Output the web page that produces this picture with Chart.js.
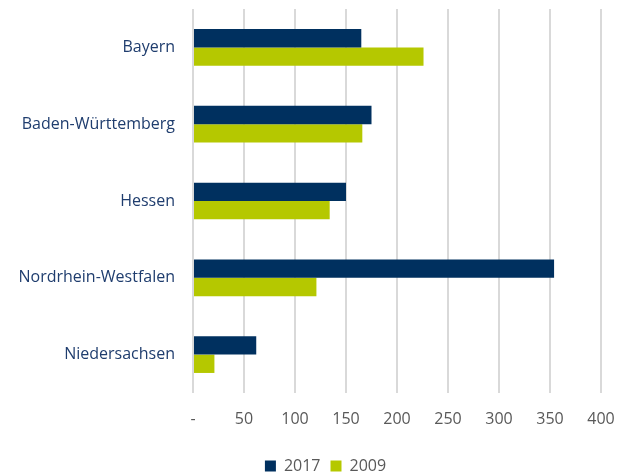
<!DOCTYPE html>
<html>
<head>
<meta charset="utf-8">
<script src="https://cdn.jsdelivr.net/npm/chart.js@4/dist/chart.umd.min.js"></script>
<style>
  html, body { margin: 0; padding: 0; background: #fff; }
  #wrap { width: 624px; height: 474px; }
</style>
</head>
<body>
<div id="wrap"><canvas id="chart" width="624" height="474"></canvas></div>
<script>
const states = ["Bayern", "Baden-Württemberg", "Hessen", "Nordrhein-Westfalen", "Niedersachsen"];
const values2017 = [165, 175, 150, 354, 62];
const values2009 = [226, 166, 134, 121, 21];
const seriesLabels = ["2017", "2009"];

const navy = "#00305f";
const green = "#b5c800";

// the legend in the original sits a bit right of the canvas centre
const shiftLegend = {
    id: "shiftLegend",
    afterLayout(chart) {
        if (chart.legend) chart.legend.left += 50;
    },
};

new Chart(document.getElementById("chart"), {
    type: "bar",
    data: {
        labels: states,
        datasets: [{
            label: seriesLabels[0],
            data: values2017,
            backgroundColor: navy,
            categoryPercentage: 0.478,
            barPercentage: 1.0,
        }, {
            label: seriesLabels[1],
            data: values2009,
            backgroundColor: green,
            categoryPercentage: 0.478,
            barPercentage: 1.0,
        }],
    },
    options: {
        indexAxis: "y",
        responsive: false,
        animation: false,
        layout: { padding: { top: 9, right: 23, left: 0, bottom: -10 } },
        plugins: {
            tooltip: { enabled: false },
            legend: {
                position: "bottom",
                labels: {
                    boxWidth: 11,
                    boxHeight: 11,
                    padding: 10,
                    color: "#595959",
                    font: { family: "Open Sans", size: 16 },
                },
            },
        },
        scales: {
            x: {
                min: 0,
                max: 400,
                ticks: {
                    stepSize: 50,
                    padding: 17,
                    color: "#595959",
                    font: { family: "Open Sans", size: 16 },
                    callback: v => v === 0 ? "-" : v,
                },
                grid: { color: "#d9d9d9", lineWidth: 2, drawTicks: false },
                border: { display: false },
                afterFit: scale => {
                    scale.height = 55;
                    scale.paddingLeft = 0;
                    scale.paddingRight = 0;
                },
            },
            y: {
                ticks: {
                    padding: 18,
                    color: "#1f3d6e",
                    font: { family: "Open Sans", size: 16 },
                },
                grid: { display: false, drawTicks: false },
                border: { display: false },
                afterFit: scale => {
                    scale.width = 193;
                    scale.paddingTop = 0;
                    scale.paddingBottom = 0;
                },
            },
        },
    },
    plugins: [shiftLegend],
});
</script>
</body>
</html>
